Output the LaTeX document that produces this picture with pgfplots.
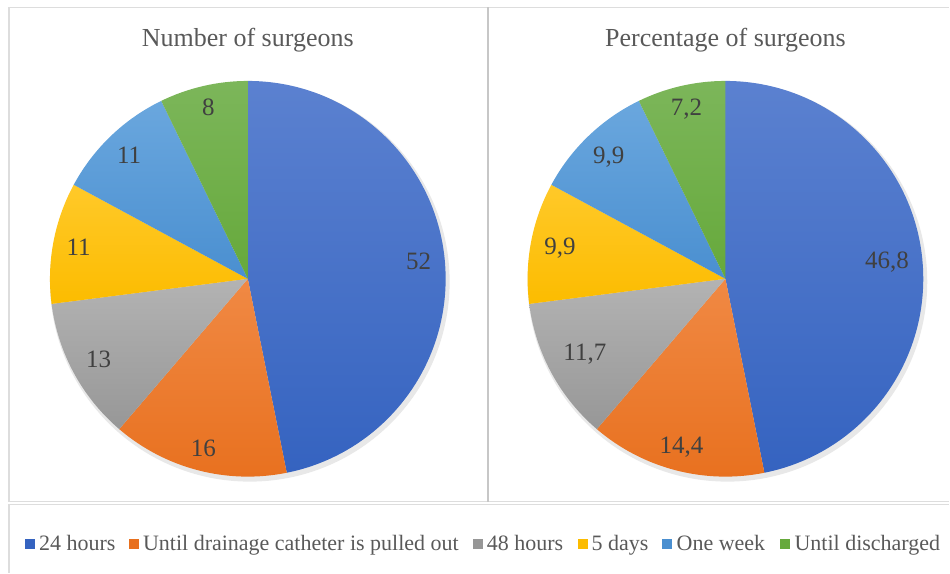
\documentclass[border=0pt]{standalone}
\usepackage{pgfplots}
\pgfplotsset{compat=1.18}
\usepackage{pgfplotstable}
\usepackage{fontspec}
\setmainfont{Liberation Serif}

% slice colours, lighter at the top as in the Office gradient
\definecolor{top0}{HTML}{5B81D0}\definecolor{bot0}{HTML}{3563C0}
\definecolor{top1}{HTML}{F08944}\definecolor{bot1}{HTML}{E8701E}
\definecolor{top2}{HTML}{B3B3B3}\definecolor{bot2}{HTML}{979797}
\definecolor{top3}{HTML}{FFC929}\definecolor{bot3}{HTML}{FCBC00}
\definecolor{top4}{HTML}{6AA7DE}\definecolor{bot4}{HTML}{4A8FD0}
\definecolor{top5}{HTML}{7CB65A}\definecolor{bot5}{HTML}{66A93B}
\definecolor{labgray}{HTML}{404040}
\definecolor{titlegray}{HTML}{595959}
\definecolor{framegray}{HTML}{DDDDDD}

\pgfplotstableread{
name n pct
{24 hours} 52 46.8
{Until drainage catheter is pulled out} 16 14.4
{48 hours} 13 11.7
{5 days} 11 9.9
{One week} 11 9.9
{Until discharged} 8 7.2
}\piedata

\newcommand\labfont{\fontsize{25}{29}\selectfont}
\newcommand\legfont{\fontsize{22}{26}\selectfont}

% one pie from column #1, centred at (#2,279); labels at the inside end
\newcommand\piechart[2]{%
  \pgfmathsetmacro\total{0}%
  \pgfplotsforeachungrouped \i in {0,...,5}{%
    \pgfplotstablegetelem{\i}{#1}\of\piedata
    \pgfmathsetmacro\total{\total+\pgfplotsretval}%
  }%
  \edef\temp{\noexpand\fill[gray, opacity=0.18] (axis cs:#2,279) ++(2pt,-3pt) circle[radius=200pt];}\temp
  \pgfmathsetmacro\cum{0}%
  \pgfplotsforeachungrouped \i in {0,...,5}{%
    \pgfplotstablegetelem{\i}{#1}\of\piedata
    \let\val\pgfplotsretval
    \pgfmathsetmacro\sa{90-360*(\cum/\total)}%
    \pgfmathsetmacro\ea{90-360*((\cum+\val)/\total)}%
    \pgfmathsetmacro\ma{(\sa+\ea)/2}%
    \pgfmathsetmacro\cum{\cum+\val}%
    \pgfmathprintnumberto[fixed, precision=1, use comma, assume math mode=true]{\val}{\vlab}%
    \edef\temp{%
      \noexpand\shade[top color=top\i, bottom color=bot\i] (axis cs:#2,279) -- ++(\sa:198pt)
        arc[start angle=\sa, end angle=\ea, radius=198pt] -- cycle;
      \noexpand\path (axis cs:#2,279) ++(\ma:188pt)
        node[anchor=\ma, text=labgray, font=\noexpand\labfont] {\vlab};
    }\temp
  }%
}

\begin{document}
\begin{tikzpicture}
\begin{axis}[
  width=950pt, height=573pt, scale only axis,
  xmin=0, xmax=950, ymin=0, ymax=573, y dir=reverse,
  hide axis, clip=false
]
\path (axis cs:0,0) rectangle (axis cs:950,573);

% frames
\draw[framegray, line width=1.5pt] (axis cs:9,573) -- (axis cs:9,505) -- (axis cs:950,505);
\draw[framegray, line width=1.5pt] (axis cs:9,502) -- (axis cs:9,7.5) -- (axis cs:950,7.5);
\draw[framegray, line width=1.5pt] (axis cs:9,502) -- (axis cs:950,502);
\draw[framegray!90!black, line width=2pt] (axis cs:488,7.5) -- (axis cs:488,502);

% titles
\node[text=titlegray, font=\fontsize{26}{30}\selectfont] at (axis cs:248,40) {Number of surgeons};
\node[text=titlegray, font=\fontsize{26}{30}\selectfont] at (axis cs:726,40) {Percentage of surgeons};

\piechart{n}{248}
\piechart{pct}{726}

% legend
\pgfplotsforeachungrouped \i/\x in {0/25, 1/129, 2/473, 3/578, 4/663, 5/781}{%
  \pgfplotstablegetelem{\i}{name}\of\piedata
  \edef\temp{%
    \noexpand\fill[bot\i] (axis cs:\x,539) rectangle (axis cs:\x+10,549);
    \noexpand\node[anchor=base west, inner sep=0pt, text=titlegray, font=\noexpand\legfont]
      at (axis cs:\x+14,550.5) {\pgfplotsretval};
  }\temp
}
\end{axis}
\end{tikzpicture}
\end{document}
